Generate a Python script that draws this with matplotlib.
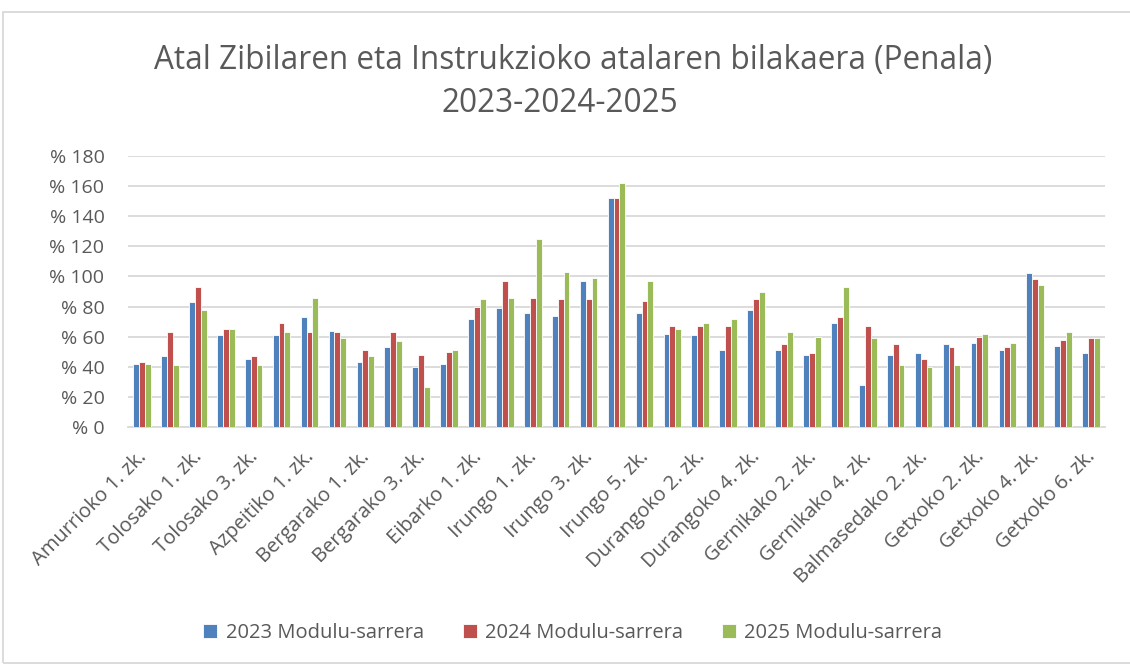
import matplotlib
matplotlib.use("Agg")
import matplotlib.pyplot as plt
import matplotlib.transforms as mtransforms
import numpy as np
from matplotlib.patches import Rectangle

plt.rcParams["font.family"] = ["Open Sans", "DejaVu Sans"]

# categories (only every second one is labelled in the original)
courts = [
    "Amurrioko 1. zk.", "Amurrioko 2. zk.", "Tolosako 1. zk.", "Tolosako 2. zk.",
    "Tolosako 3. zk.", "Tolosako 4. zk.", "Azpeitiko 1. zk.", "Azpeitiko 2. zk.",
    "Bergarako 1. zk.", "Bergarako 2. zk.", "Bergarako 3. zk.", "Eibarko 2. zk.",
    "Eibarko 1. zk.", "Irungo 2. zk.", "Irungo 1. zk.", "Irungo 4. zk.",
    "Irungo 3. zk.", "Irungo 6. zk.", "Irungo 5. zk.", "Durangoko 1. zk.",
    "Durangoko 2. zk.", "Durangoko 3. zk.", "Durangoko 4. zk.", "Gernikako 1. zk.",
    "Gernikako 2. zk.", "Gernikako 3. zk.", "Gernikako 4. zk.", "Balmasedako 1. zk.",
    "Balmasedako 2. zk.", "Getxoko 1. zk.", "Getxoko 2. zk.", "Getxoko 3. zk.",
    "Getxoko 4. zk.", "Getxoko 5. zk.", "Getxoko 6. zk.",
]
v2023 = [42, 47, 83, 61, 45, 61, 73, 64, 43, 53, 40, 42, 72, 79, 76, 74, 97, 152,
         76, 62, 61, 51, 78, 51, 48, 69, 28, 48, 49, 55, 56, 51, 102, 54, 49]
v2024 = [43, 63, 93, 65, 47, 69, 63, 63, 51, 63, 48, 50, 80, 97, 86, 85, 85, 152,
         84, 67, 67, 67, 85, 55, 49, 73, 67, 55, 45, 53, 60, 53, 98, 58, 59]
v2025 = [42, 41, 78, 65, 41, 63, 86, 59, 47, 57, 27, 51, 85, 86, 125, 103, 99, 162,
         97, 65, 69, 72, 90, 63, 60, 93, 59, 41, 40, 41, 62, 56, 94, 63, 59]
series_names = ["2023 Modulu-sarrera", "2024 Modulu-sarrera", "2025 Modulu-sarrera"]
colors = ["#4F81BD", "#C0504D", "#9BBB59"]

txt = "#595959"
fig = plt.figure(figsize=(11.3, 6.65), dpi=100)
ax = fig.add_axes([0.1133, 0.3574, 0.8646, 0.4085])

x = np.arange(len(courts))
w = 0.21
for i, (vals, name, col) in enumerate(zip([v2023, v2024, v2025], series_names, colors)):
    ax.bar(x + (i - 1) * w, vals, width=w, color=col, edgecolor="white",
           linewidth=0.6, label=name, zorder=3)

ax.set_xlim(-0.5, len(courts) - 0.5)
ax.set_ylim(0, 180)
ax.set_yticks(range(0, 181, 20))
ax.set_yticklabels([f"% {t}" for t in range(0, 181, 20)], fontsize=14, color=txt)
ax.yaxis.grid(True, color="#D9D9D9", linewidth=1.3, zorder=0)
ax.tick_params(axis="y", length=0, pad=17)
ax.tick_params(axis="x", length=0, pad=14)
for s in ["top", "right", "left"]:
    ax.spines[s].set_visible(False)
ax.spines["bottom"].set_color("#D9D9D9")
ax.spines["bottom"].set_linewidth(1.3)

ax.set_xticks(x[::2])
ax.set_xticklabels(courts[::2], rotation=45, ha="right", rotation_mode="anchor",
                   fontsize=14.5, color=txt)
shift = mtransforms.ScaledTranslation(-4 / 72, 0, fig.dpi_scale_trans)
for lab in ax.get_xticklabels():
    lab.set_transform(lab.get_transform() + shift)

fig.text(573 / 1130, 1 - 60 / 665, "Atal Zibilaren eta Instrukzioko atalaren bilakaera (Penala)",
         ha="center", va="center", fontsize=22.7, color=txt)
fig.text(560 / 1130, 1 - 103 / 665, "2023-2024-2025", ha="center", va="center",
         fontsize=22.7, color=txt)

fig.legend(loc="center", bbox_to_anchor=(0.507, 1 - 633 / 665), ncol=3, frameon=False,
           fontsize=14.5, labelcolor=txt, handlelength=0.7, handleheight=0.7,
           handletextpad=0.4, columnspacing=1.95)

fig.patches.append(Rectangle((3 / 1130, 0.003), 1.2, 1 - 12 / 665 - 0.003,
                             transform=fig.transFigure, fill=False,
                             edgecolor="#D9D9D9", linewidth=1.3))

fig.savefig("out.png", dpi=100)
